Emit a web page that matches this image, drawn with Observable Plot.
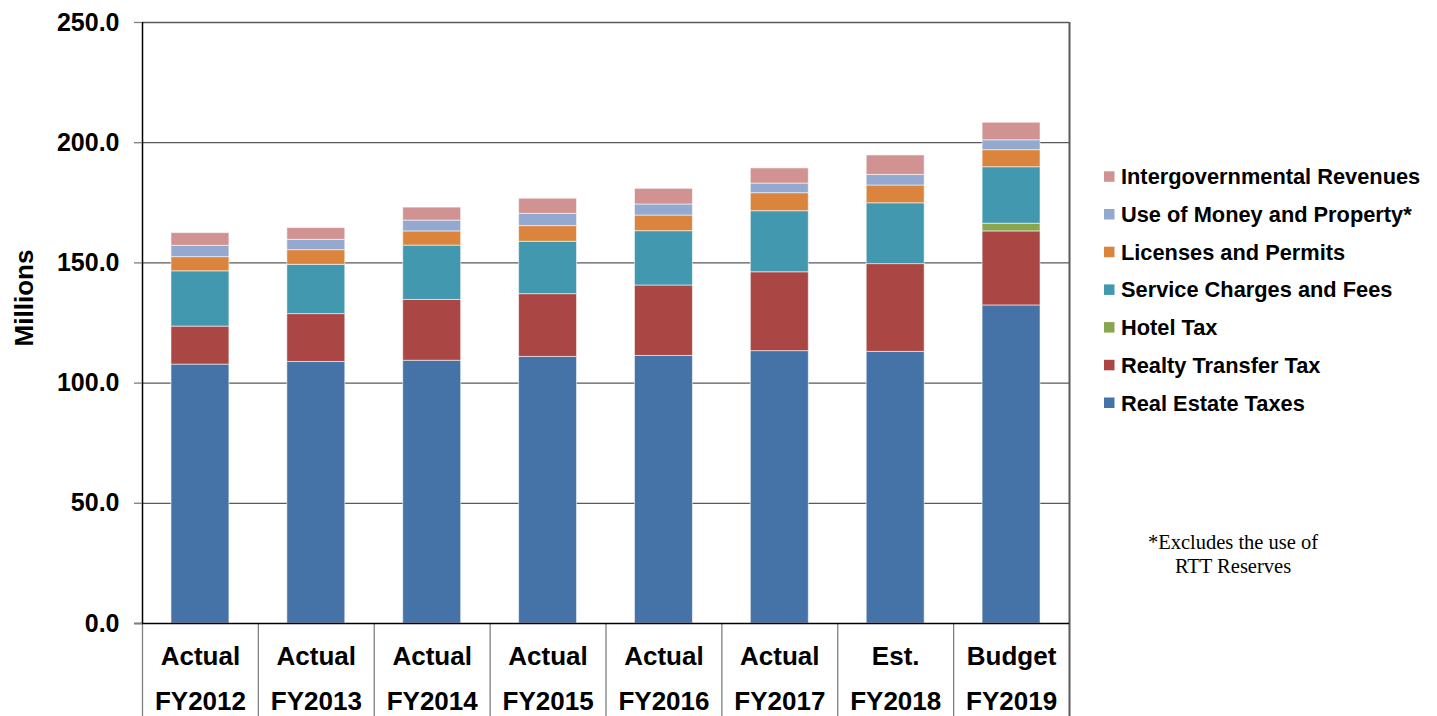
<!DOCTYPE html>
<html>
<head>
<meta charset="utf-8">
<script src="https://cdn.jsdelivr.net/npm/d3@7"></script>
<script src="https://cdn.jsdelivr.net/npm/@observablehq/plot@0.6"></script>
<style>
  html, body { margin: 0; padding: 0; background: #fff; }
  #chart { position: relative; width: 1437px; height: 716px; overflow: hidden; }
  #chart > svg { position: absolute; left: 0; top: 0; }
</style>
</head>
<body>
<div id="chart"></div>
<script>
// Fiscal years and their status labels
const categories = ["FY2012", "FY2013", "FY2014", "FY2015", "FY2016", "FY2017", "FY2018", "FY2019"];
const periodLabels = ["Actual", "Actual", "Actual", "Actual", "Actual", "Actual", "Est.", "Budget"];

// Revenue sources, stacked bottom to top
const seriesNames = [
  "Real Estate Taxes",
  "Realty Transfer Tax",
  "Hotel Tax",
  "Service Charges and Fees",
  "Licenses and Permits",
  "Use of Money and Property*",
  "Intergovernmental Revenues"
];
const seriesColors = ["#4572A7", "#AA4643", "#89A54E", "#4198AF", "#DB843D", "#93A9CF", "#D19392"];

// Revenue by source, in millions
const realEstateTaxes      = [107.7, 108.8, 109.3, 110.9, 111.3, 113.3, 113.0, 132.3];
const realtyTransferTax    = [15.8, 19.9, 25.3, 26.1, 29.3, 32.8, 36.5, 30.8];
const hotelTax             = [0, 0, 0, 0, 0, 0, 0, 3.2];
const serviceCharges       = [23.0, 20.5, 22.6, 21.8, 22.6, 25.4, 25.3, 23.5];
const licensesPermits      = [5.9, 6.1, 5.9, 6.5, 6.5, 7.5, 7.4, 7.1];
const useOfMoney           = [4.7, 4.3, 4.5, 5.1, 4.6, 4.0, 4.4, 4.1];
const intergovernmental    = [5.3, 4.9, 5.4, 6.3, 6.5, 6.3, 8.1, 7.3];

const yTicks = [0, 50, 100, 150, 200, 250];

const seriesValues = [realEstateTaxes, realtyTransferTax, hotelTax, serviceCharges, licensesPermits, useOfMoney, intergovernmental];
const rows = [];
seriesNames.forEach((s, si) => {
  categories.forEach((c, ci) => {
    const v = seriesValues[si][ci];
    if (v > 0) rows.push({year: c, series: s, value: v});
  });
});

const W = 1437, H = 716;
const mL = 142, mR = 368, mT = 22, mB = 93;
const step = (W - mL - mR) / categories.length;
const font = "'Liberation Sans', Arial, sans-serif";

const chart = Plot.plot({
  width: W,
  height: H,
  marginLeft: mL,
  marginRight: mR,
  marginTop: mT,
  marginBottom: mB,
  style: {fontFamily: font, background: "transparent", overflow: "visible"},
  x: {domain: categories, paddingInner: 0.5, paddingOuter: 0.25, round: false, axis: null},
  y: {domain: [0, 250], axis: null},
  color: {domain: seriesNames, range: seriesColors},
  marks: [
    // horizontal gridlines
    Plot.ruleY(yTicks.filter(d => d > 0), {stroke: "#5a5a5a", strokeWidth: 1.3}),
    // stacked revenue bars
    Plot.barY(rows, {
      x: "year", y: "value", fill: "series", z: "series",
      order: seriesNames,
      stroke: "#ffffff", strokeOpacity: 0.55, strokeWidth: 1
    }),
    // right frame edge, running down through the category label area
    Plot.ruleX([categories[categories.length - 1]], {dx: step / 2, stroke: "#5a5a5a", strokeWidth: 2, insetBottom: -mB}),
    // category dividers below the baseline
    Plot.ruleX(categories, {dx: -step / 2, stroke: "#7f7f7f", strokeWidth: 1.3, insetTop: H - mT - mB, insetBottom: -mB}),
    // y axis line and baseline
    Plot.ruleX([categories[0]], {dx: -step / 2, stroke: "#000", strokeWidth: 1.5}),
    Plot.ruleY([0], {stroke: "#000", strokeWidth: 1.5, insetLeft: -8}),
    Plot.axisY({
      ticks: yTicks, tickFormat: d3.format(".1f"), tickSize: 8, tickPadding: 15,
      stroke: "#7f7f7f", strokeWidth: 1.3, fill: "#000", fontSize: 25, fontWeight: "bold", label: null
    }),
    Plot.axisX({
      tickSize: 0, tickPadding: 23.5, fontSize: 26, fontWeight: "bold", fill: "#000",
      tickFormat: d => periodLabels[categories.indexOf(d)], label: null
    }),
    Plot.axisX({
      tickSize: 0, tickPadding: 68.5, fontSize: 26, fontWeight: "bold", fill: "#000",
      tickFormat: d => d, label: null
    })
  ]
});
document.getElementById("chart").appendChild(chart);

// Axis title, legend and footnote drawn in an overlay
const overlay = d3.select("#chart").append("svg")
  .attr("width", W).attr("height", H)
  .style("pointer-events", "none");

overlay.append("text")
  .attr("transform", "translate(33,298) rotate(-90)")
  .attr("text-anchor", "middle")
  .attr("font-family", font).attr("font-size", 26).attr("font-weight", "bold")
  .attr("fill", "#000")
  .text("Millions");

const legendOrder = seriesNames.slice().reverse();
const legendColors = seriesColors.slice().reverse();
legendOrder.forEach((name, i) => {
  const baseline = 184.3 + 37.7 * i;
  overlay.append("rect")
    .attr("x", 1104).attr("y", baseline - 13).attr("width", 10.5).attr("height", 10.5)
    .attr("fill", legendColors[i]);
  overlay.append("text")
    .attr("x", 1121).attr("y", baseline)
    .attr("font-family", font).attr("font-size", 21.8).attr("font-weight", "bold")
    .attr("fill", "#000")
    .text(name);
});

const footLines = ["*Excludes the use of", "RTT Reserves"];
footLines.forEach((t, i) => {
  overlay.append("text")
    .attr("x", 1233).attr("y", 549 + 24 * i)
    .attr("text-anchor", "middle")
    .attr("font-family", "'Liberation Serif', 'Times New Roman', serif")
    .attr("font-size", 20.5)
    .attr("fill", "#000")
    .text(t);
});
</script>
</body>
</html>
